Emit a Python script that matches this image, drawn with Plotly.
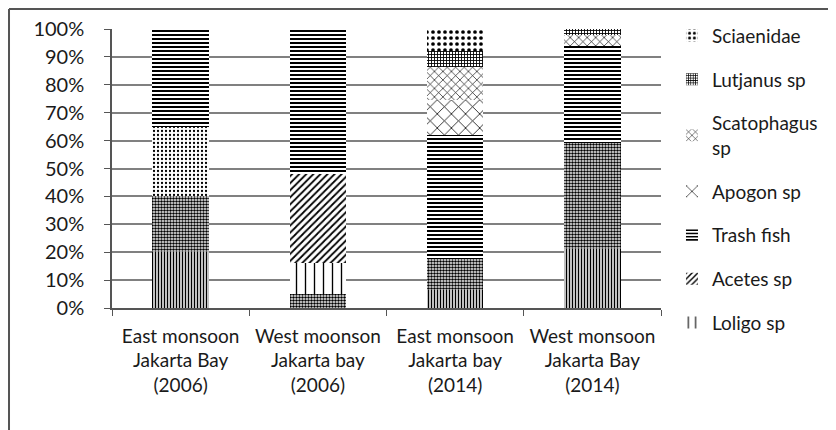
import plotly.graph_objects as go

# categories (x axis)
sites = [
    'East monsoon<br>Jakarta Bay<br>(2006)',
    'West moonson<br>Jakarta bay<br>(2006)',
    'East monsoon<br>Jakarta bay<br>(2014)',
    'West monsoon<br>Jakarta Bay<br>(2014)',
]

# composition in %, bottom of stack first
unlabelled_vertical = [20, 0, 6.5, 21]
unlabelled_dense = [20, 5, 11, 38]
unlabelled_light = [25, 0, 0, 0]
loligo = [0, 11, 0, 0]
acetes = [0, 32, 0, 0]
trash_fish = [35, 52, 44.5, 35]
apogon = [0, 0, 12.5, 0]
scatophagus = [0, 0, 12, 4]
lutjanus = [0, 0, 5.5, 2]
sciaenidae = [0, 0, 8, 0]

y_ticks = [0, 10, 20, 30, 40, 50, 60, 70, 80, 90, 100]

FONT = 'Lato, Carlito, Calibri, sans-serif'
INK = '#1a1a1a'

# name, values, pattern shape, size, solidity, in legend
series = [
    ('Unlabelled (vertical)', unlabelled_vertical, '|', 3, 0.5, False),
    ('Unlabelled (dense)', unlabelled_dense, '.', 3, 0.55, False),
    ('Unlabelled (light)', unlabelled_light, '.', 4, 0.25, False),
    ('Loligo sp', loligo, '|', 9, 0.15, True),
    ('Acetes sp', acetes, '/', 5, 0.35, True),
    ('Trash fish', trash_fish, '-', 4, 0.5, True),
    ('Apogon sp', apogon, 'x', 10, 0.15, True),
    ('Scatophagus<br>sp', scatophagus, 'x', 6, 0.2, True),
    ('Lutjanus sp', lutjanus, '+', 3, 0.5, True),
    ('Sciaenidae', sciaenidae, '.', 6, 0.3, True),
]

fig = go.Figure()
for i, (name, vals, shape, size, solid, show) in enumerate(series):
    fig.add_trace(go.Bar(
        x=sites, y=vals, name=name,
        legendgroup='g%d' % i, showlegend=show, legendrank=100 - i,
        marker=dict(
            color='white',
            line=dict(width=0),
            pattern=dict(shape=shape, size=size, solidity=solid,
                         fgcolor='black', bgcolor='white', fillmode='replace'),
        ),
    ))

fig.update_layout(
    width=836, height=430,
    barmode='stack', bargap=0.59,
    paper_bgcolor='white', plot_bgcolor='white',
    font=dict(family=FONT, color=INK, size=18),
    margin=dict(l=104, r=183, t=21, b=130, autoexpand=False),
    showlegend=True,
    legend=dict(
        x=1.02, xanchor='left', y=1.044, yanchor='top',
        traceorder='grouped', tracegroupgap=16, maxheight=420,
        font=dict(size=19, family=FONT, color=INK),
        bgcolor='rgba(0,0,0,0)',
    ),
    xaxis=dict(
        automargin=False,
        showline=True, linecolor='#555', linewidth=1.5,
        ticks='outside', ticklen=6, tickcolor='#555',
        tickson='boundaries', showgrid=False,
        ticklabelstandoff=10,
        tickfont=dict(size=19),
    ),
    yaxis=dict(
        automargin=False,
        range=[0, 100], tickvals=y_ticks,
        ticktext=['%d%%' % v for v in y_ticks],
        showline=True, linecolor='#555', linewidth=1.5,
        ticks='outside', ticklen=6, tickcolor='#555',
        showgrid=True, gridcolor='#808080', gridwidth=1.5,
        zeroline=False, ticklabelstandoff=16,
        tickfont=dict(size=20),
    ),
    shapes=[
        dict(type='line', xref='paper', yref='paper',
             x0=-0.1876, x1=1.4, y0=1.0717, y1=1.0717,
             line=dict(color='#555', width=2)),
        dict(type='line', xref='paper', yref='paper',
             x0=-0.1876, x1=-0.1876, y0=-0.5, y1=1.0717,
             line=dict(color='#555', width=2)),
    ],
)

fig.write_html('out.html')
